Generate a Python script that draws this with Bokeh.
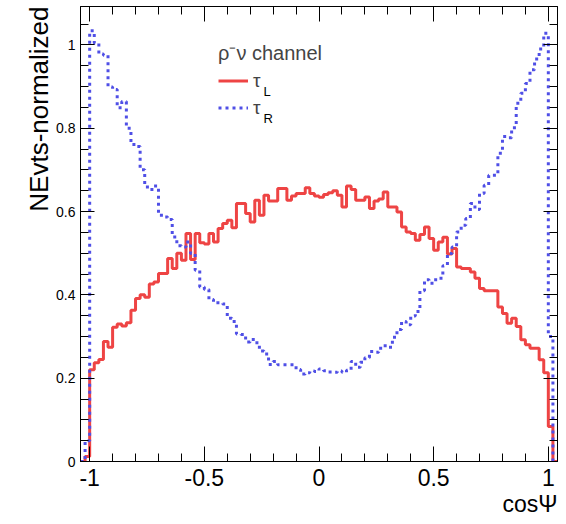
import numpy as np
from bokeh.plotting import figure
from bokeh.models import Range1d, LinearAxis, FixedTicker, Legend, LegendItem, Label, Title
from bokeh.embed import file_html
from bokeh.resources import INLINE

# ---------------- data ----------------
bin_lo = -1.04
bin_width = 0.02

# tau_L (red, solid): 104 bins from -1.04 to 1.04
tau_L = [0.0, 0.012,
         0.220, 0.237, 0.245, 0.288, 0.274, 0.322, 0.330, 0.325, 0.333, 0.363,
         0.391, 0.400, 0.394, 0.426, 0.431, 0.451, 0.451, 0.487, 0.463, 0.500,
         0.483, 0.547, 0.485, 0.547, 0.525, 0.522, 0.547, 0.527, 0.559, 0.571,
         0.579, 0.561, 0.619, 0.619, 0.595, 0.575, 0.627, 0.591, 0.639, 0.625,
         0.625, 0.655, 0.655, 0.627, 0.637, 0.643, 0.643, 0.657, 0.643, 0.637,
         0.634, 0.641, 0.645, 0.650, 0.639, 0.611, 0.661, 0.653, 0.627, 0.627,
         0.635, 0.607, 0.625, 0.630, 0.647, 0.611, 0.611, 0.599, 0.563, 0.551,
         0.547, 0.531, 0.545, 0.563, 0.535, 0.507, 0.527, 0.538, 0.498, 0.511,
         0.467, 0.463, 0.463, 0.455, 0.440, 0.415, 0.410, 0.410, 0.410, 0.371,
         0.355, 0.332, 0.344, 0.324, 0.292, 0.280, 0.272, 0.272, 0.244, 0.213,
         0.084, 0.0]

# tau_R (blue, dotted)
tau_R = [0.0, 0.050,
         1.034, 1.004, 0.978, 0.975, 0.899, 0.893, 0.849, 0.864, 0.800, 0.761,
         0.756, 0.700, 0.659, 0.653, 0.661, 0.591, 0.587, 0.581, 0.539, 0.518,
         0.515, 0.527, 0.499, 0.459, 0.419, 0.413, 0.389, 0.381, 0.381, 0.378,
         0.344, 0.336, 0.306, 0.305, 0.287, 0.293, 0.285, 0.265, 0.258, 0.233,
         0.240, 0.232, 0.232, 0.232, 0.232, 0.221, 0.210, 0.213, 0.217, 0.216,
         0.222, 0.218, 0.215, 0.214, 0.217, 0.214, 0.219, 0.240, 0.226, 0.238,
         0.249, 0.264, 0.262, 0.272, 0.278, 0.274, 0.298, 0.317, 0.336, 0.328,
         0.349, 0.360, 0.410, 0.436, 0.428, 0.436, 0.440, 0.470, 0.499, 0.515,
         0.551, 0.567, 0.583, 0.619, 0.605, 0.643, 0.663, 0.687, 0.687, 0.740,
         0.780, 0.777, 0.801, 0.860, 0.884, 0.907, 0.940, 0.966, 0.990, 1.028,
         0.300, 0.0]

x_major = [-1.0, -0.5, 0.0, 0.5, 1.0]
x_labels = ["-1", "-0.5", "0", "0.5", "1"]
x_minor = [-1.0, -0.9, -0.8, -0.7, -0.6, -0.5, -0.4, -0.3, -0.2, -0.1, 0.0,
           0.1, 0.2, 0.3, 0.4, 0.5, 0.6, 0.7, 0.8, 0.9, 1.0]
y_major = [0.0, 0.2, 0.4, 0.6, 0.8, 1.0]
y_labels = ["0", "0.2", "0.4", "0.6", "0.8", "1"]
y_minor = [0.0, 0.05, 0.1, 0.15, 0.2, 0.25, 0.3, 0.35, 0.4, 0.45, 0.5, 0.55,
           0.6, 0.65, 0.7, 0.75, 0.8, 0.85, 0.9, 0.95, 1.0, 1.05]

x_title = "cosΨ"
y_title = "NEvts-normalized"
legend_title = "ρ⁻ν channel"
series_labels = ["τ", "τ"]
series_subs = ["L", "R"]

assert len(tau_L) == 104 and len(tau_R) == 104

edges = bin_lo + bin_width * np.arange(len(tau_L) + 1)
yL = list(tau_L) + [tau_L[-1]]
yR = list(tau_R) + [tau_R[-1]]

FONT = "Liberation Sans"
RED = "#ee4444"
BLUE = "#4f4fe6"

X0, X1 = -1.04, 1.04
Y0, Y1 = 0.0, 1.092

p = figure(width=558, height=516, output_backend="svg", toolbar_location=None,
           x_range=Range1d(X0, X1), y_range=Range1d(Y0, Y1),
           min_border_left=80, min_border_right=1, min_border_top=6,
           min_border_bottom=54)
p.grid.visible = False
p.outline_line_color = "black"
p.outline_line_width = 1
p.background_fill_color = "white"
p.border_fill_color = "white"

r_red = p.step(edges, yL, mode="after", line_color=RED, line_width=3)
r_blue = p.step(edges, yR, mode="after", line_color=BLUE, line_width=3,
                line_dash="3 4")

xt = FixedTicker(ticks=x_major, minor_ticks=x_minor)
yt = FixedTicker(ticks=y_major, minor_ticks=y_minor)

xa = p.xaxis[0]
xa.ticker = xt
xa.major_label_overrides = {v: s for v, s in zip(x_major, x_labels)}
xa.major_label_text_font = FONT
xa.major_label_text_font_size = "23px"
xa.major_label_text_color = "black"
xa.major_label_standoff = 7
xa.major_tick_in = 15
xa.major_tick_out = 0
xa.minor_tick_in = 8
xa.minor_tick_out = 0

ya = p.yaxis[0]
ya.ticker = yt
ya.major_label_overrides = {v: s for v, s in zip(y_major, y_labels)}
ya.major_label_text_font = FONT
ya.major_label_text_font_size = "14px"
ya.major_label_text_color = "black"
ya.major_label_standoff = 5
ya.major_tick_in = 14
ya.major_tick_out = 0
ya.minor_tick_in = 8
ya.minor_tick_out = 0

for ax in (xa, ya):
    ax.axis_line_color = "black"
    ax.major_tick_line_color = "black"
    ax.minor_tick_line_color = "black"

top = LinearAxis(ticker=xt, major_label_text_font_size="0px", major_label_standoff=0,
                 major_label_text_color=None, axis_label_standoff=0,
                 major_tick_in=15, major_tick_out=0, minor_tick_in=8, minor_tick_out=0,
                 axis_line_color="black")
right = LinearAxis(ticker=yt, major_label_text_font_size="0px", major_label_standoff=0,
                   major_label_text_color=None, axis_label_standoff=0,
                   major_tick_in=14, major_tick_out=0, minor_tick_in=8, minor_tick_out=0,
                   axis_line_color="black")
p.add_layout(top, "above")
p.add_layout(right, "right")

# axis titles (ROOT style: aligned to the far end of each axis)
p.add_layout(Title(text=x_title, align="right", text_font=FONT,
                   text_font_size="23px", text_font_style="normal",
                   text_color="black", standoff=0, offset=0), "below")
p.add_layout(Title(text=y_title, align="right", text_font=FONT,
                   text_font_size="26px", text_font_style="normal",
                   text_color="black", standoff=0, offset=0), "left")

legend = Legend(items=[LegendItem(label=series_labels[0], renderers=[r_red]),
                       LegendItem(label=series_labels[1], renderers=[r_blue])],
                location=(138, 340), title=legend_title,
                title_text_font=FONT, title_text_font_size="20px",
                title_text_font_style="normal", title_standoff=1,
                label_text_font=FONT, label_text_font_size="19px",
                glyph_width=30, glyph_height=27, label_height=27,
                label_standoff=5, spacing=0, padding=0, margin=0,
                border_line_color=None, background_fill_alpha=0)
p.add_layout(legend)

for sub, yy in zip(series_subs, [0.887, 0.824]):
    p.add_layout(Label(x=-0.242, y=yy, text=sub, text_font=FONT,
                       text_font_size="13px", text_baseline="alphabetic",
                       text_align="left", text_color="black"))

open("out.html", "w").write(file_html(p, INLINE))
